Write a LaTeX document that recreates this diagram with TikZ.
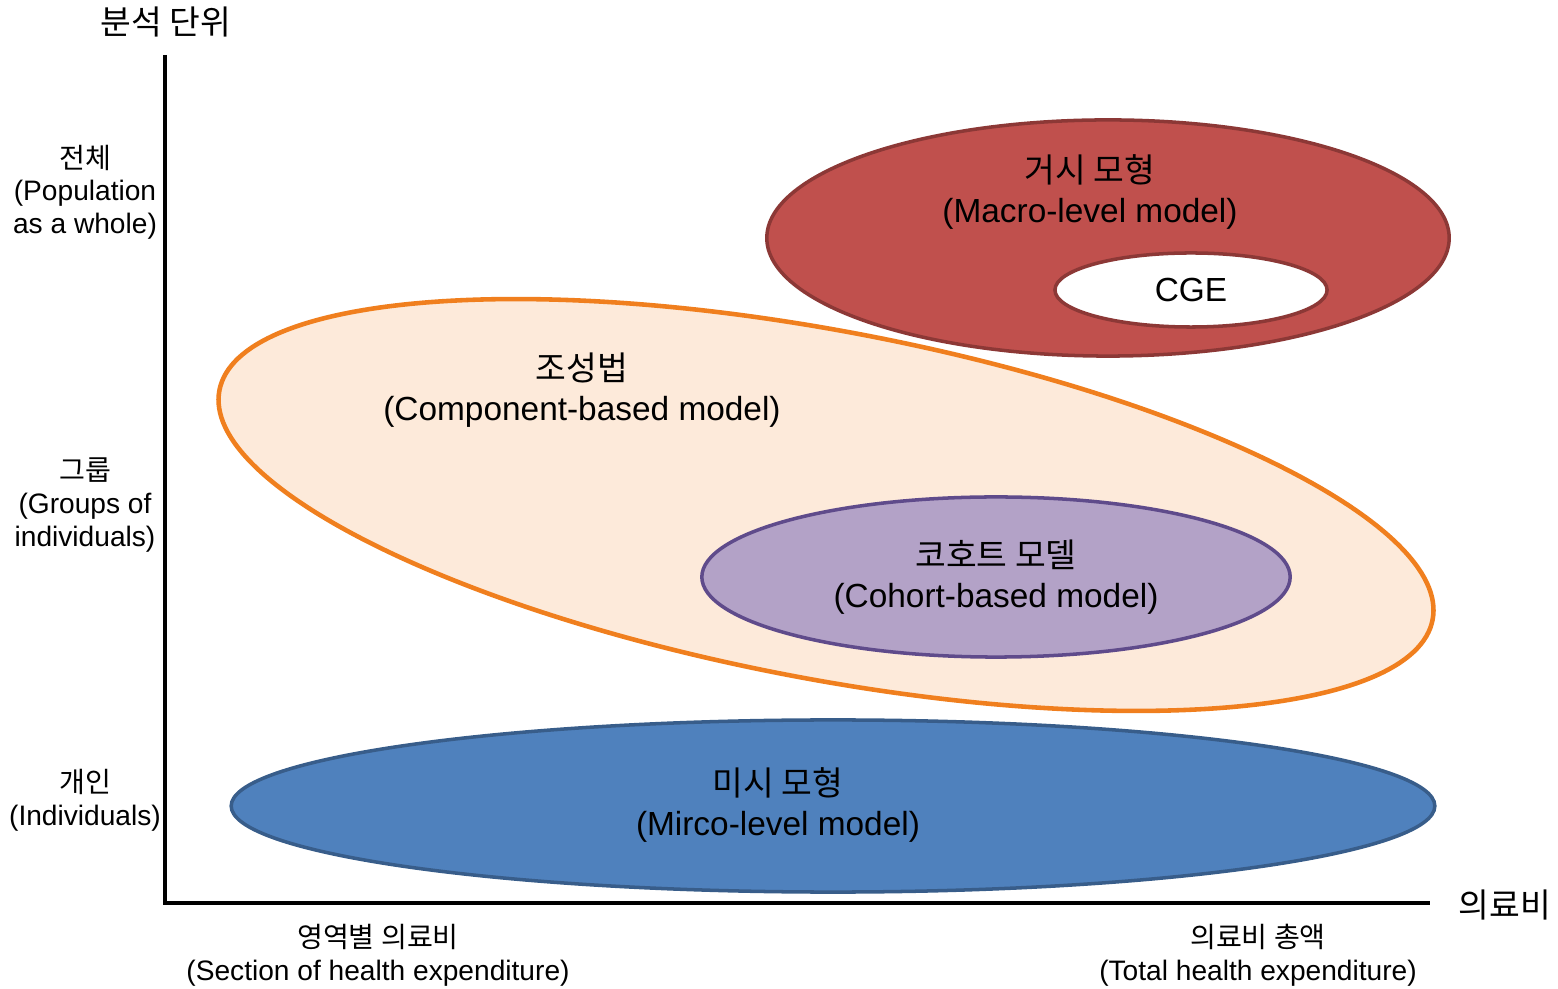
\documentclass[tikz,border=0pt]{standalone}
\usepackage{fontspec}
\setmainfont{Liberation Sans}
\newfontfamily\kr{Noto Sans CJK KR}
\usetikzlibrary{shapes, positioning}

\definecolor{macrofill}{HTML}{C0504D}
\definecolor{macroline}{HTML}{8C3836}
\definecolor{compfill}{HTML}{FDEADA}
\definecolor{compline}{HTML}{F07F1E}
\definecolor{cohortfill}{HTML}{B3A2C7}
\definecolor{cohortline}{HTML}{5F4B8B}
\definecolor{microfill}{HTML}{4F81BD}
\definecolor{microline}{HTML}{385D8A}

\tikzset{
  blob/.style={ellipse, inner sep=0pt, line width=1pt},
  modeltext/.style={align=center, text centered, font=\fontsize{9.5}{11.4}\selectfont},
  axistext/.style={align=center, text centered, font=\fontsize{8}{9.3}\selectfont},
  axisline/.style={line width=1pt}
}

\begin{document}
\begin{tikzpicture}[x=0.01cm, y=-0.01cm]
    \useasboundingbox (0,0) rectangle (1558,989);

    % ellipses %
      \node[blob, draw=compline, fill=compfill, line width=1.3pt, rotate=-10.7,
            minimum width=12.34cm, minimum height=3.48cm] (comp) at (826,505) {};
      \node[blob, draw=cohortline, fill=cohortfill,
            minimum width=5.88cm, minimum height=1.6cm] (cohort) at (996,577) {};
      \node[blob, draw=macroline, fill=macrofill,
            minimum width=6.82cm, minimum height=2.36cm] (macro) at (1108,238) {};
      \node[blob, draw=macroline, fill=white,
            minimum width=2.72cm, minimum height=0.74cm] (cge) at (1191,290) {};
      \node[blob, draw=microline, fill=microfill,
            minimum width=12.03cm, minimum height=1.72cm] (micro) at (833,806) {};

      % model labels %
      \node[modeltext] (macrolbl) at (1090,192) {{\kr 거시 모형}\\(Macro-level model)};
      \node[modeltext] (cgelbl) at (cge) {CGE};
      \node[modeltext] (complbl) at (582,390) {{\kr 조성법}\\(Component-based model)};
      \node[modeltext] (cohortlbl) at (996,577) {{\kr 코호트 모델}\\(Cohort-based model)};
      \node[modeltext] (microlbl) at (778,805) {{\kr 미시 모형}\\(Mirco-level model)};

      % axes %
      \coordinate (ytop) at (165,55);
      \coordinate (origin) at (165,903);
      \coordinate (xend) at (1430,903);
      \draw[axisline] (ytop) -- (origin) -- (xend);

      \node[modeltext] (ytitle) at (166,22) {\kr 분석 단위};
      \node[modeltext] (xtitle) at (1505,905) {\kr 의료비};

      \node[axistext] (whole) at (85,192) {{\kr 전체}\\(Population\\as a whole)};
      \node[axistext] (groups) at (85,505) {{\kr 그룹}\\(Groups of\\individuals)};
      \node[axistext] (indiv) at (85,800) {{\kr 개인}\\(Individuals)};

      \node[axistext] (section) at (378,955) {{\kr 영역별 의료비}\\(Section of health expenditure)};
      \node[axistext] (total) at (1258,955) {{\kr 의료비 총액}\\(Total health expenditure)};
\end{tikzpicture}
\end{document}
